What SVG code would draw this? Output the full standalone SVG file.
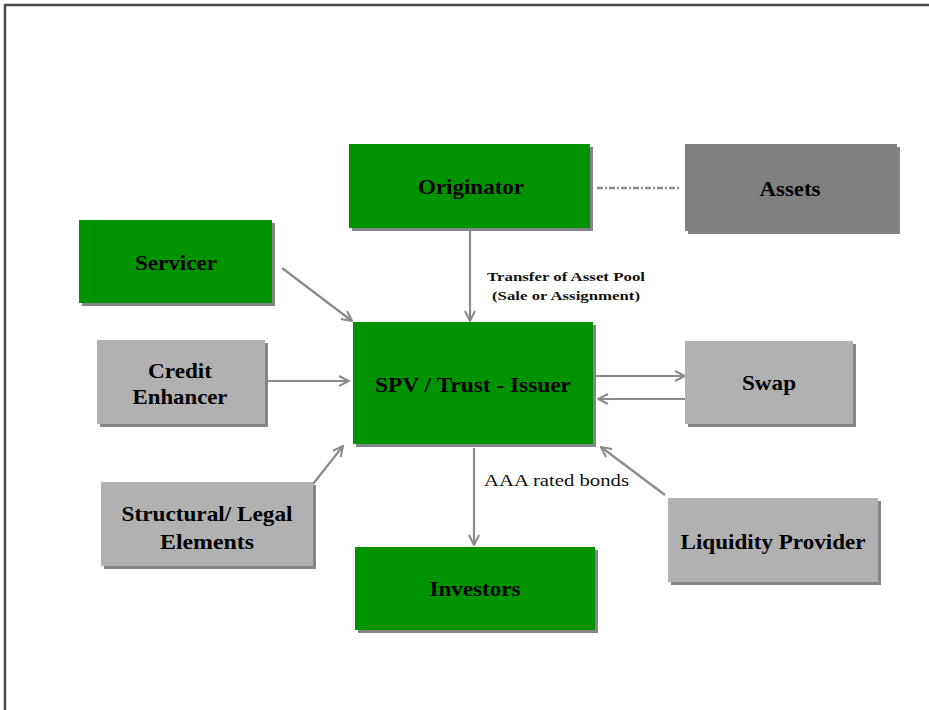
<svg xmlns="http://www.w3.org/2000/svg" width="929" height="710" viewBox="0 0 929 710">
  <style>
    .shadow { fill: #858585; }
    .green { fill: #009300; }
    .light { fill: #b1b1b1; }
    .dark { fill: #808080; }
    .lbl { font-family: "Liberation Serif", "Times New Roman", serif; font-weight: bold; font-size: 21px; fill: #000; text-anchor: middle; }
    .edge { stroke: #8a8a8a; stroke-width: 2.2; fill: none; }
    .note { font-family: "Liberation Serif", "Times New Roman", serif; fill: #111; }
  </style>
  <defs>
    <marker id="arrow" viewBox="0 0 12 12" refX="11" refY="6" markerWidth="12" markerHeight="12" markerUnits="userSpaceOnUse" orient="auto">
      <path d="M1,1 L11,6 L1,11" fill="none" stroke="#8a8a8a" stroke-width="2"/>
    </marker>
  </defs>

  <rect x="0" y="0" width="929" height="710" fill="#fff"/>
  <!-- page frame -->
  <path d="M5,710 V5 H929" fill="none" stroke="#4a4a4a" stroke-width="2.5"/>

  <g id="connectors">
    <line class="edge" x1="470" y1="229" x2="470" y2="321" marker-end="url(#arrow)"/>
    <line class="edge" x1="282" y1="268" x2="352" y2="321" marker-end="url(#arrow)"/>
    <line class="edge" x1="267" y1="381" x2="349" y2="381" marker-end="url(#arrow)"/>
    <line class="edge" x1="596" y1="376" x2="685" y2="376" marker-end="url(#arrow)"/>
    <line class="edge" x1="686" y1="399" x2="598" y2="399" marker-end="url(#arrow)"/>
    <line class="edge" x1="313" y1="484" x2="343" y2="446" marker-end="url(#arrow)"/>
    <line class="edge" x1="665" y1="495" x2="601" y2="447" marker-end="url(#arrow)"/>
    <line class="edge" x1="474" y1="448" x2="474" y2="545" marker-end="url(#arrow)"/>
    <line x1="597" y1="188" x2="680" y2="188" stroke="#8a8a8a" stroke-width="2.5" stroke-dasharray="6,2,2,2"/>
    <text class="note" x="487" y="281" font-size="13" font-weight="bold" textLength="158" lengthAdjust="spacingAndGlyphs">Transfer of Asset Pool</text>
    <text class="note" x="492" y="300" font-size="13" font-weight="bold" textLength="148" lengthAdjust="spacingAndGlyphs">(Sale or Assignment)</text>
    <text class="note" x="484" y="486" font-size="17" textLength="145" lengthAdjust="spacingAndGlyphs">AAA rated bonds</text>
  </g>

  <g id="originator">
    <rect class="shadow" x="352" y="147" width="241" height="84"/>
    <rect class="green" x="349" y="144" width="241" height="84"/>
    <text class="lbl" x="471" y="194" textLength="106" lengthAdjust="spacingAndGlyphs">Originator</text>
  </g>

  <g id="assets">
    <rect class="shadow" x="688" y="147" width="212" height="87"/>
    <rect class="dark" x="685" y="144" width="212" height="87"/>
    <text class="lbl" x="790" y="196" textLength="61" lengthAdjust="spacingAndGlyphs">Assets</text>
  </g>

  <g id="servicer">
    <rect class="shadow" x="82" y="223" width="193" height="83"/>
    <rect class="green" x="79" y="220" width="193" height="83"/>
    <text class="lbl" x="176" y="270" textLength="82" lengthAdjust="spacingAndGlyphs">Servicer</text>
  </g>

  <g id="credit-enhancer">
    <rect class="shadow" x="100" y="343" width="168" height="84"/>
    <rect class="light" x="97" y="340" width="168" height="84"/>
    <text class="lbl" x="180" y="378" textLength="64" lengthAdjust="spacingAndGlyphs">Credit</text>
    <text class="lbl" x="180" y="404" textLength="95" lengthAdjust="spacingAndGlyphs">Enhancer</text>
  </g>

  <g id="spv">
    <rect class="shadow" x="356" y="325" width="240" height="122"/>
    <rect class="green" x="353" y="322" width="240" height="122"/>
    <text class="lbl" x="473" y="392" textLength="196" lengthAdjust="spacingAndGlyphs">SPV / Trust - Issuer</text>
  </g>

  <g id="swap">
    <rect class="shadow" x="688" y="344" width="168" height="83"/>
    <rect class="light" x="685" y="341" width="168" height="83"/>
    <text class="lbl" x="769" y="390" textLength="54" lengthAdjust="spacingAndGlyphs">Swap</text>
  </g>

  <g id="structural-legal">
    <rect class="shadow" x="104" y="485" width="212" height="84"/>
    <rect class="light" x="101" y="482" width="212" height="84"/>
    <text class="lbl" x="207" y="521" textLength="171" lengthAdjust="spacingAndGlyphs">Structural/ Legal</text>
    <text class="lbl" x="207" y="549" textLength="94" lengthAdjust="spacingAndGlyphs">Elements</text>
  </g>

  <g id="investors">
    <rect class="shadow" x="358" y="550" width="240" height="83"/>
    <rect class="green" x="355" y="547" width="240" height="83"/>
    <text class="lbl" x="475" y="596" textLength="91" lengthAdjust="spacingAndGlyphs">Investors</text>
  </g>

  <g id="liquidity-provider">
    <rect class="shadow" x="671" y="501" width="210" height="84"/>
    <rect class="light" x="668" y="498" width="210" height="84"/>
    <text class="lbl" x="773" y="549" textLength="185" lengthAdjust="spacingAndGlyphs">Liquidity Provider</text>
  </g>
</svg>
